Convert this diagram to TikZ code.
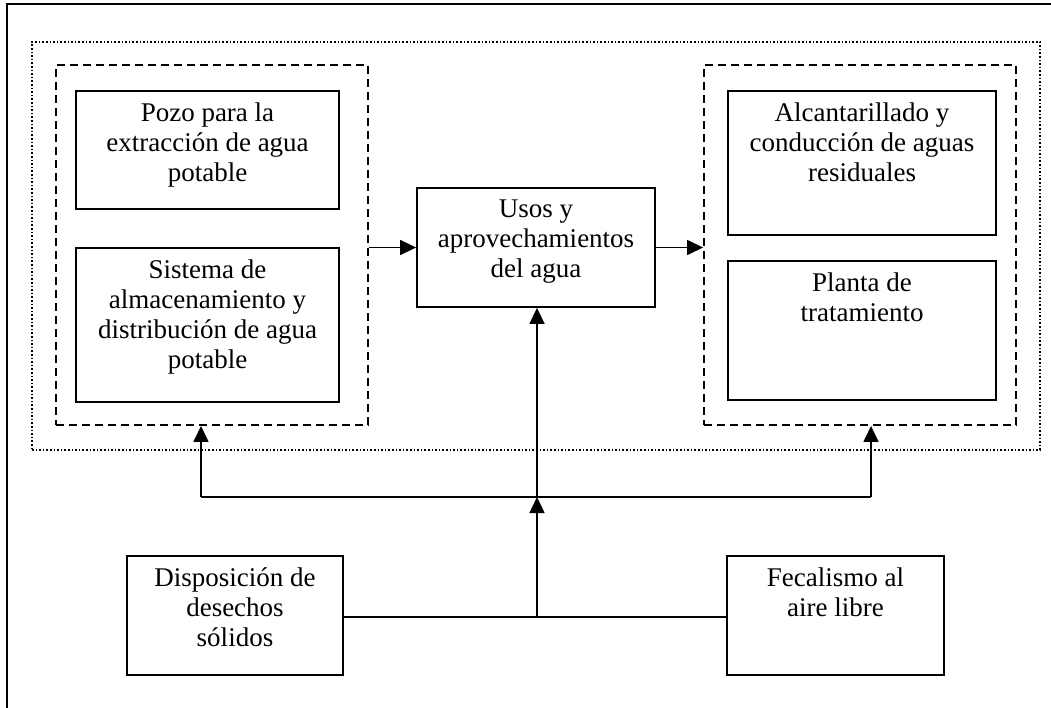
\documentclass[tikz,border=0pt]{standalone}
\usepackage{fontspec}
\setmainfont{Liberation Serif}
\usetikzlibrary{arrows.meta, positioning}

\tikzset{
  caja/.style={draw, line width=1.8pt, inner sep=0pt},
  texto/.style={align=center, font=\fontsize{27}{30}\selectfont, anchor=north, yshift=-9pt},
  grupo/.style={draw, dash pattern=on 8pt off 5pt, line width=1.9pt, inner sep=0pt},
  marco/.style={draw, dotted, line width=1.6pt, inner sep=0pt},
  flecha/.style={-{Triangle[length=16pt,width=15pt]}, line width=1.5pt},
}

\begin{document}
\begin{tikzpicture}[x=1pt, y=-1pt]
    \useasboundingbox (0,0) rectangle (1051,708);
    % outer frame
    \draw[line width=1.8pt] (7,720) |- (1060,4);

    % dotted and dashed groups
    \node[marco, minimum width=1008, minimum height=408] (sistemaagua) at (536,246) {};
    \node[grupo, minimum width=312, minimum height=360] (abasto) at (212,245) {};
    \node[grupo, minimum width=312, minimum height=360] (saneamiento) at (860,245) {};

    % boxes
    \node[caja, minimum width=263, minimum height=118,
          label={[texto]north:{Pozo para la\\extracción de agua\\potable}}] (pozo) at (207.5,150) {};
    \node[caja, minimum width=263, minimum height=154,
          label={[texto]north:{Sistema de\\almacenamiento y\\distribución de agua\\potable}}] (almacen) at (207.5,325) {};
    \node[caja, minimum width=238, minimum height=119,
          label={[texto]north:{Usos y\\aprovechamientos\\del agua}}] (usos) at (536,247.5) {};
    \node[caja, minimum width=268, minimum height=144,
          label={[texto]north:{Alcantarillado y\\conducción de aguas\\residuales}}] (alcantarillado) at (862,163) {};
    \node[caja, minimum width=268, minimum height=139,
          label={[texto]north:{Planta de\\tratamiento}}] (planta) at (862,330.5) {};
    \node[caja, minimum width=216, minimum height=119,
          label={[texto]north:{Disposición de\\desechos\\sólidos}}] (desechos) at (235,615.5) {};
    \node[caja, minimum width=217, minimum height=119,
          label={[texto]north:{Fecalismo al\\aire libre}}] (fecalismo) at (835.5,615.5) {};

    % junctions
    \coordinate (centro) at (537,497);
    \coordinate (izq) at (201,497);
    \coordinate (der) at (871,497);
    \coordinate (base) at (537,617);

    % links
    \draw[flecha] (usos.west -| abasto.east) -- (usos.west);
    \draw[flecha] (usos.east) -- (usos.east -| saneamiento.west);
    \draw[line width=1.5pt] (desechos.east |- base) -- (base) -- (fecalismo.west |- base);
    \draw[flecha] (base) -- (centro);
    \draw[flecha] (centro) -- (usos.south -| centro);
    \draw[line width=1.5pt] (izq) -- (der);
    \draw[flecha] (izq) -- (izq |- abasto.south);
    \draw[flecha] (der) -- (der |- saneamiento.south);
\end{tikzpicture}
\end{document}
